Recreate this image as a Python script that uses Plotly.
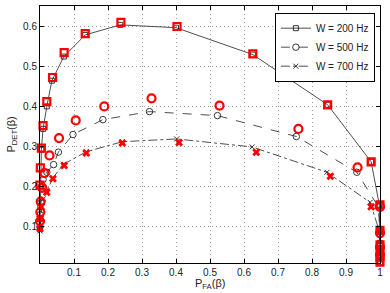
import plotly.graph_objects as go

# ---- data ----
# W = 200 Hz, theory (black squares, solid)
th200_x = [0.0, 0.001, 0.002, 0.004, 0.009, 0.02, 0.035, 0.07, 0.133, 0.236, 0.40, 0.626, 0.846, 0.974, 0.998, 1.0, 1.0, 1.0, 1.0]
th200_y = [0.10, 0.15, 0.20, 0.292, 0.344, 0.40, 0.464, 0.524, 0.578, 0.603, 0.596, 0.529, 0.404, 0.262, 0.155, 0.09, 0.06, 0.035, 0.012]
# W = 200 Hz, simulation (red squares)
sim200_x = [0.0, 0.001, 0.004, 0.009, 0.02, 0.037, 0.071, 0.133, 0.238, 0.403, 0.626, 0.846, 0.974, 1.0, 1.0, 1.0, 1.0, 1.0, 1.0]
sim200_y = [0.204, 0.247, 0.296, 0.352, 0.412, 0.472, 0.534, 0.581, 0.609, 0.599, 0.531, 0.404, 0.262, 0.155, 0.091, 0.055, 0.04, 0.025, 0.012]

# W = 500 Hz, theory (black circles, dashed)
th500_x = [0.0, 0.001, 0.003, 0.009, 0.02, 0.04, 0.054, 0.097, 0.185, 0.322, 0.522, 0.754, 0.932, 0.995, 1.0, 1.0]
th500_y = [0.10, 0.13, 0.16, 0.218, 0.236, 0.255, 0.286, 0.33, 0.367, 0.387, 0.377, 0.325, 0.236, 0.15, 0.08, 0.03]
# W = 500 Hz, simulation (red circles)
sim500_x = [0.0, 0.001, 0.002, 0.007, 0.013, 0.028, 0.056, 0.105, 0.189, 0.328, 0.528, 0.76, 0.934, 1.0, 1.0, 1.0, 1.0]
sim500_y = [0.114, 0.137, 0.163, 0.197, 0.234, 0.278, 0.321, 0.365, 0.40, 0.42, 0.402, 0.344, 0.248, 0.15, 0.085, 0.05, 0.03]

# W = 700 Hz, theory (black x, dash-dot)
th700_x = [0.0, 0.002, 0.005, 0.01, 0.02, 0.038, 0.069, 0.136, 0.242, 0.402, 0.624, 0.844, 0.971, 0.998, 1.0]
th700_y = [0.09, 0.12, 0.15, 0.17, 0.19, 0.222, 0.256, 0.287, 0.312, 0.319, 0.299, 0.236, 0.161, 0.09, 0.04]
# W = 700 Hz, simulation (red x)
sim700_x = [0.0, 0.0, 0.003, 0.02, 0.038, 0.071, 0.136, 0.242, 0.409, 0.636, 0.854, 0.974, 1.0, 1.0, 1.0]
sim700_y = [0.095, 0.12, 0.15, 0.186, 0.22, 0.253, 0.284, 0.309, 0.31, 0.286, 0.226, 0.15, 0.09, 0.045, 0.02]

legend_names = ["W = 200 Hz", "W = 500 Hz", "W = 700 Hz"]
x_tickvals = [0.1, 0.2, 0.3, 0.4, 0.5, 0.6, 0.7, 0.8, 0.9, 1.0]
x_ticktext = ["0.1", "0.2", "0.3", "0.4", "0.5", "0.6", "0.7", "0.8", "0.9", "1"]
y_tickvals = [0.1, 0.2, 0.3, 0.4, 0.5, 0.6]
y_ticktext = ["0.1", "0.2", "0.3", "0.4", "0.5", "0.6"]

FONT = "Liberation Sans, Arial, sans-serif"
INK = "#222222"

fig = go.Figure()

theory = [
    (th200_x, th200_y, "solid", "square-open", 5, legend_names[0]),
    (th500_x, th500_y, "dash", "circle-open", 6.5, legend_names[1]),
    (th700_x, th700_y, "dashdot", "x-thin-open", 5, legend_names[2]),
]
for xs, ys, dash, sym, sz, name in theory:
    fig.add_trace(go.Scatter(
        x=xs, y=ys, mode="lines+markers", name=name, cliponaxis=False,
        line=dict(color=INK, width=0.8, dash=dash),
        marker=dict(symbol=sym, size=sz, color=INK, line=dict(width=0.9, color=INK)),
    ))

sims = [
    (sim200_x, sim200_y, "square-open", 7, 2.2),
    (sim500_x, sim500_y, "circle-open", 8, 2.2),
    (sim700_x, sim700_y, "x", 7, 0),
]
for xs, ys, sym, sz, lw in sims:
    fig.add_trace(go.Scatter(
        x=xs, y=ys, mode="markers", showlegend=False, cliponaxis=False,
        marker=dict(symbol=sym, size=sz, color="#ff0000", line=dict(width=lw, color="#ff0000")),
    ))

axis_common = dict(
    showline=True, linecolor="black", linewidth=1, mirror="ticks",
    ticks="inside", ticklen=4, tickcolor="black",
    showgrid=True, gridcolor="#a0a0a0", griddash="1px,3px", gridwidth=1,
    zeroline=False, automargin=False,
    tickfont=dict(family=FONT, size=10, color=INK),
)

fig.update_xaxes(range=[0, 1], tickvals=x_tickvals, ticktext=x_ticktext, **axis_common)
fig.update_yaxes(range=[0.01, 0.65], tickvals=y_tickvals, ticktext=y_ticktext, **axis_common)

fig.add_annotation(
    text="P<sub>FA</sub>(β)", xref="paper", yref="paper", x=0.5, y=-0.082,
    xanchor="center", yanchor="middle", showarrow=False,
    font=dict(family=FONT, size=11, color=INK),
)
fig.add_annotation(
    text="P<sub>DET</sub>(β)", xref="paper", yref="paper", x=-0.085, y=0.5,
    xanchor="center", yanchor="middle", textangle=-90, showarrow=False,
    font=dict(family=FONT, size=11, color=INK),
)

fig.update_layout(
    width=390, height=293,
    margin=dict(l=40, r=10, t=6, b=30, autoexpand=False),
    plot_bgcolor="white", paper_bgcolor="white",
    legend=dict(
        x=0.985, y=0.974, xanchor="right", yanchor="top",
        bgcolor="white", bordercolor="black", borderwidth=1,
        font=dict(family=FONT, size=10, color=INK),
        tracegroupgap=0, itemwidth=30,
    ),
)

fig.write_html("out.html", config={"displayModeBar": False},
               post_script="document.body.style.margin='0';")
